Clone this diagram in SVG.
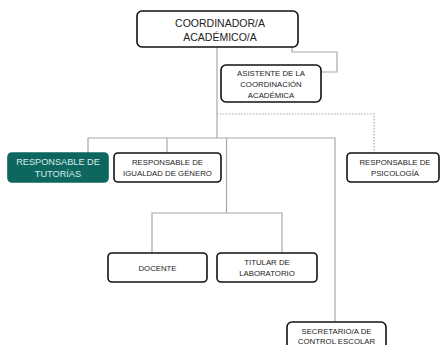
<svg xmlns="http://www.w3.org/2000/svg" width="442" height="345" viewBox="0 0 442 345">
<style>
.box{fill:#fff;stroke:#111;stroke-width:1.6}
.teal{fill:#0e675f;stroke:#0e675f;stroke-width:1.6}
.ln{fill:none;stroke:#a8a8a8;stroke-width:1.2}
.dot{fill:none;stroke:#a8a8a8;stroke-width:1.2;stroke-dasharray:1.5 1.5}
text{font-family:"Liberation Sans",Arial,sans-serif;text-anchor:middle;fill:#222}
.t7{font-size:7.8px}
.t9{font-size:9.2px}
.t10{font-size:10.5px}
.w{fill:#d6ebe7}
</style>
<rect width="442" height="345" fill="#fff"/>
<g id="connectors">
<path class="ln" d="M217 47V138"/>
<path class="ln" d="M292 47V52H337V72H321"/>
<path class="dot" d="M217 114H374V153"/>
<path class="ln" d="M88 153V138H335V322"/>
<path class="ln" d="M167 138V153"/>
<path class="ln" d="M226.5 138V213"/>
<path class="ln" d="M152 253V213H282V253"/>
</g>
<g id="coordinador">
<rect class="box" x="137" y="11" width="161" height="36" rx="5"/>
<text class="t10" x="220" y="27">COORDINADOR/A</text>
<text class="t10" x="220" y="41">ACADÉMICO/A</text>
</g>
<g id="asistente">
<rect class="box" x="221" y="65" width="100" height="37" rx="5"/>
<text class="t7" x="271" y="75.5">ASISTENTE DE LA</text>
<text class="t7" x="271" y="86.5">COORDINACIÓN</text>
<text class="t7" x="271" y="97.5">ACADÉMICA</text>
</g>
<g id="tutorias">
<rect class="teal" x="8" y="153" width="100" height="29" rx="4"/>
<text class="t9 w" x="58" y="164.5">RESPONSABLE DE</text>
<text class="t9 w" x="58" y="176.5">TUTORÍAS</text>
</g>
<g id="igualdad">
<rect class="box" x="114" y="153" width="107" height="29" rx="4"/>
<text class="t7" x="167.5" y="164.5">RESPONSABLE DE</text>
<text class="t7" x="167.5" y="175.5">IGUALDAD DE GÉNERO</text>
</g>
<g id="psicologia">
<rect class="box" x="347" y="153" width="92" height="29" rx="4"/>
<text class="t7" x="395" y="164.5">RESPONSABLE DE</text>
<text class="t7" x="395" y="175.5">PSICOLOGÍA</text>
</g>
<g id="docente">
<rect class="box" x="108" y="253" width="99" height="29" rx="4"/>
<text class="t7" x="157.5" y="270.5">DOCENTE</text>
</g>
<g id="titular">
<rect class="box" x="217" y="253" width="100" height="29" rx="4"/>
<text class="t7" x="267" y="264.5">TITULAR DE</text>
<text class="t7" x="267" y="275.5">LABORATORIO</text>
</g>
<g id="secretario">
<rect class="box" x="287" y="322" width="99" height="30" rx="5"/>
<text class="t7" x="336.5" y="333.5">SECRETARIO/A DE</text>
<text class="t7" x="336.5" y="343.5">CONTROL ESCOLAR</text>
</g>
</svg>
